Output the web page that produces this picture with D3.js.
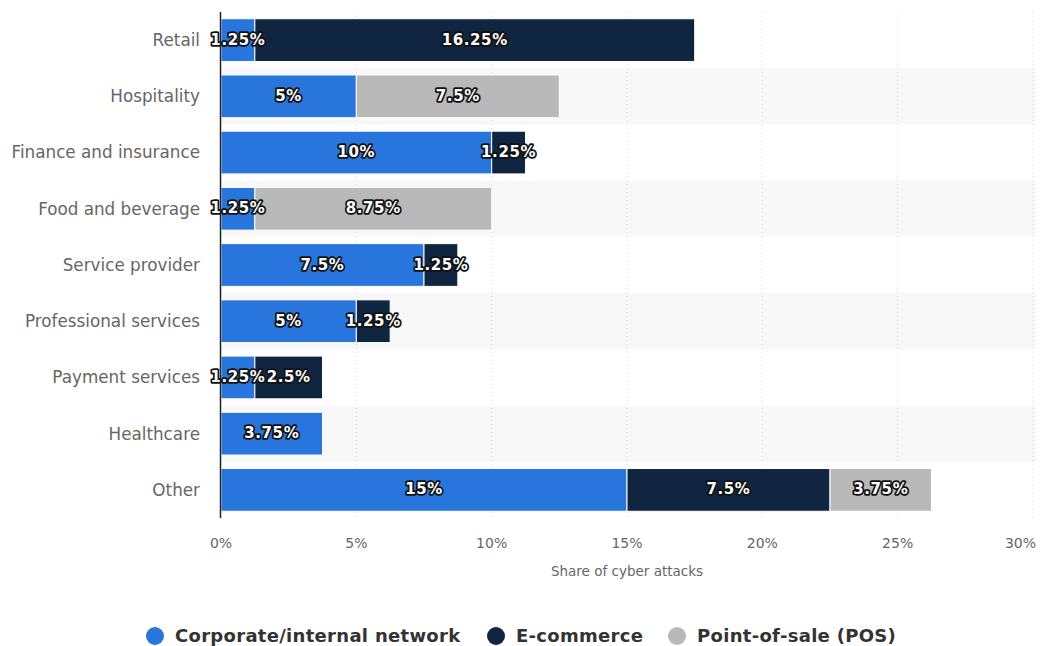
<!DOCTYPE html>
<html>
<head>
<meta charset="utf-8">
<script src="https://cdn.jsdelivr.net/npm/d3@7"></script>
<style>
  html, body { margin: 0; padding: 0; background: #fff; }
  svg { display: block; }
</style>
</head>
<body>
<svg id="chart" width="1041" height="646"></svg>
<script>
// Industries targeted, share of cyber attacks by attack vector (%)
const categories = ["Retail", "Hospitality", "Finance and insurance", "Food and beverage",
  "Service provider", "Professional services", "Payment services", "Healthcare", "Other"];
const seriesNames = ["Corporate/internal network", "E-commerce", "Point-of-sale (POS)"];
const corporate = [1.25, 5, 10, 1.25, 7.5, 5, 1.25, 3.75, 15];
const ecommerce = [16.25, 0, 1.25, 0, 1.25, 1.25, 2.5, 0, 7.5];
const pos = [0, 7.5, 0, 8.75, 0, 0, 0, 0, 3.75];
const tickValues = [0, 5, 10, 15, 20, 25, 30];
const colors = ["#2876dd", "#10253f", "#b9b9b9"];

const svg = d3.select("#chart");
const plotLeft = 221, plotRight = 1033, plotTop = 12, plotBottom = 518;

const x = d3.scaleLinear().domain([0, 30]).range([plotLeft, plotRight]);
const y = d3.scaleBand().domain(categories).range([plotTop, plotBottom]).paddingInner(0).paddingOuter(0);
const barPad = 0.12;

// alternating row bands
svg.append("g").selectAll("rect")
  .data(categories.filter((d, i) => i % 2 === 1))
  .join("rect")
  .attr("x", plotLeft).attr("width", 1036 - plotLeft)
  .attr("y", d => y(d)).attr("height", y.bandwidth())
  .attr("fill", "#f8f8f8");

// dotted grid lines
svg.append("g").selectAll("line")
  .data(tickValues.filter(v => v > 0))
  .join("line")
  .attr("x1", d => x(d)).attr("x2", d => x(d))
  .attr("y1", plotTop).attr("y2", plotBottom)
  .attr("stroke", "#d8d8d8").attr("stroke-width", 1)
  .attr("stroke-dasharray", "1,3");

// stacked data
const rows = categories.map((c, i) => ({ category: c, values: [corporate[i], ecommerce[i], pos[i]] }));
const stack = d3.stack().keys([0, 1, 2]).value((d, k) => d.values[k]);
const stacked = stack(rows);

const barsG = svg.append("g");
stacked.forEach((layer, k) => {
  barsG.append("g").selectAll("rect")
    .data(layer.filter(d => d[1] - d[0] > 0))
    .join("rect")
    .attr("x", d => x(d[0]))
    .attr("width", d => x(d[1]) - x(d[0]))
    .attr("y", d => y(d.data.category) + y.bandwidth() * barPad)
    .attr("height", y.bandwidth() * (1 - 2 * barPad))
    .attr("fill", colors[k])
    .attr("stroke", "#fff").attr("stroke-width", 1);
});

// value labels
const labelsG = svg.append("g")
  .attr("font-family", "'DejaVu Sans', sans-serif")
  .attr("font-weight", "bold")
  .attr("font-size", 15)
  .attr("letter-spacing", 0.6)
  .attr("text-anchor", "middle");
stacked.forEach((layer, k) => {
  layer.filter(d => d[1] - d[0] > 0).forEach(d => {
    const v = d[1] - d[0];
    const cx = (x(d[0]) + x(d[1])) / 2;
    const cy = y(d.data.category) + y.bandwidth() / 2;
    labelsG.append("text")
      .attr("x", cx).attr("y", cy).attr("dy", "0.3em")
      .attr("fill", "#fff")
      .attr("stroke", "#111").attr("stroke-width", 3.5)
      .attr("stroke-linejoin", "round")
      .attr("paint-order", "stroke")
      .text(d3.format("")(v) + "%");
  });
});

// y axis line and category labels
svg.append("line")
  .attr("x1", plotLeft - 0.5).attr("x2", plotLeft - 0.5)
  .attr("y1", plotTop).attr("y2", plotBottom)
  .attr("stroke", "#222").attr("stroke-width", 1.5);

svg.append("g").selectAll("text")
  .data(categories)
  .join("text")
  .attr("x", 200)
  .attr("y", d => y(d) + y.bandwidth() / 2)
  .attr("dy", "0.35em")
  .attr("text-anchor", "end")
  .attr("font-family", "'DejaVu Sans', sans-serif")
  .attr("font-size", 16.8)
  .attr("fill", "#666")
  .text(d => d);

// x axis tick labels
svg.append("g").selectAll("text")
  .data(tickValues)
  .join("text")
  .attr("x", (d, i) => i === tickValues.length - 1 ? 1036 : x(d))
  .attr("y", 548)
  .attr("text-anchor", (d, i) => i === tickValues.length - 1 ? "end" : "middle")
  .attr("font-family", "'DejaVu Sans', sans-serif")
  .attr("font-size", 14)
  .attr("fill", "#666")
  .text(d => d + "%");

svg.append("text")
  .attr("x", (plotLeft + plotRight) / 2).attr("y", 576)
  .attr("text-anchor", "middle")
  .attr("font-family", "'DejaVu Sans', sans-serif")
  .attr("font-size", 13.5)
  .attr("fill", "#666")
  .text("Share of cyber attacks");

// legend
const legend = svg.append("g")
  .attr("font-family", "'DejaVu Sans', sans-serif")
  .attr("font-weight", "bold")
  .attr("font-size", 18)
  .attr("letter-spacing", 0.3)
  .attr("fill", "#333");
const legendX = [155, 496, 677];
seriesNames.forEach((name, i) => {
  legend.append("circle")
    .attr("cx", legendX[i]).attr("cy", 636).attr("r", 9)
    .attr("fill", colors[i]);
  legend.append("text")
    .attr("x", legendX[i] + 20).attr("y", 636).attr("dy", "0.35em")
    .text(name);
});
</script>
</body>
</html>
